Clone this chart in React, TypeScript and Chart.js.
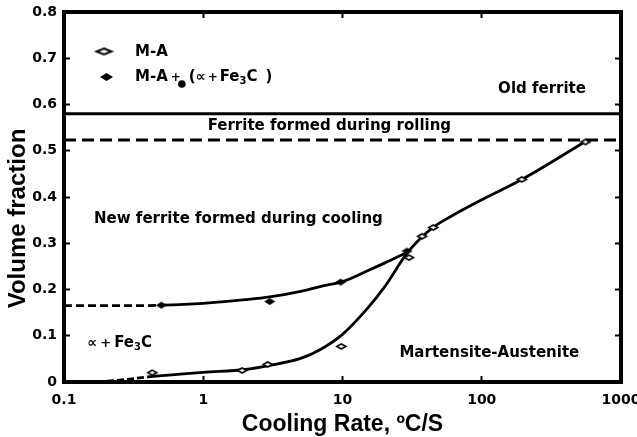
import React, { useEffect, useRef } from "react";
import { Chart, registerables } from "chart.js";

Chart.register(...registerables);

// ---------- data ----------
const xTickValues = [0.1, 1, 10, 100, 1000];
const xTopTickValues = [1, 10, 100];
const yTickValues = [0, 0.1, 0.2, 0.3, 0.4, 0.5, 0.6, 0.7, 0.8];
const yRightTickValues = [0.1, 0.2, 0.3, 0.4, 0.5, 0.6, 0.7];

const xTitle = "Cooling Rate, ºC/S";
const yTitle = "Volume fraction";

// phase boundaries (horizontal)
const boundaryX = [0.1, 1000];
const oldFerriteY = [0.58, 0.58];
const rollingFerriteY = [0.523, 0.523];

// M-A curve (lower)
const maCurveX = [0.173, 0.25, 0.4, 1, 2, 3, 5, 7, 10, 15, 20, 29, 37, 45, 60, 100, 200, 555];
const maCurveY = [0, 0.004, 0.011, 0.021, 0.027, 0.036, 0.051, 0.071, 0.103, 0.158, 0.205, 0.278, 0.313, 0.335, 0.358, 0.394, 0.44, 0.52];
const maDashedUntil = 0.4;

// M-A + (α + Fe3C) curve (upper)
const mixCurveX = [0.1, 0.2, 0.3, 0.5, 1, 2, 3, 5, 7, 10, 15, 20, 29];
const mixCurveY = [0.165, 0.165, 0.165, 0.166, 0.17, 0.178, 0.184, 0.196, 0.207, 0.217, 0.24, 0.257, 0.28];
const mixDashedUntil = 0.5;

// measured points
const maPointX = [0.43, 1.9, 2.9, 9.8, 30, 37.3, 44.8, 194, 555];
const maPointY = [0.02, 0.025, 0.038, 0.077, 0.269, 0.315, 0.334, 0.438, 0.519];
const mixPointX = [0.5, 3, 9.7, 29];
const mixPointY = [0.166, 0.174, 0.216, 0.283];

// text
const regionText = ["Old ferrite", "Ferrite formed during rolling", "New ferrite formed during cooling", "Martensite-Austenite"];
const legendText = ["M-A", "M-A"];

// ---------- layout (text placement, in data units) ----------
const regionAnchorX = [271, 8.05, 1.79, 113.4];
const regionAnchorY = [0.634, 0.5525, 0.3525, 0.0633];
const alphaLabelX = 0.147;
const alphaLabelY = 0.084;

const TXT = '"DejaVu Sans", sans-serif';
const TITLE_FONT = '"Liberation Sans", Arial, sans-serif';

function makeDiamond(w: number, h: number, fill: string, lw: number) {
  const c = document.createElement("canvas");
  const pad = Math.ceil(lw) + 1;
  c.width = w + pad * 2;
  c.height = h + pad * 2;
  const g = c.getContext("2d") as CanvasRenderingContext2D;
  g.beginPath();
  g.moveTo(pad + w / 2, pad);
  g.lineTo(pad + w, pad + h / 2);
  g.lineTo(pad + w / 2, pad + h);
  g.lineTo(pad, pad + h / 2);
  g.closePath();
  g.fillStyle = fill;
  g.fill();
  if (lw > 0) {
    g.lineWidth = lw;
    g.strokeStyle = "#000";
    g.stroke();
  }
  return c;
}

function zip(xs: number[], ys: number[]) {
  return xs.map((x, i) => ({ x, y: ys[i] }));
}

type Run = { t: string; size: number; gap?: number; dy?: number };
function drawRuns(ctx: CanvasRenderingContext2D, x: number, y: number, runs: Run[]) {
  let cx = x;
  ctx.textAlign = "left";
  ctx.textBaseline = "middle";
  for (const r of runs) {
    ctx.font = `bold ${r.size}px ${TXT}`;
    cx += r.gap || 0;
    ctx.fillText(r.t, cx, y + (r.dy || 0));
    cx += ctx.measureText(r.t).width;
  }
  return cx;
}

export default function App() {
  const ref = useRef<HTMLCanvasElement | null>(null);

  useEffect(() => {
    const canvas = ref.current;
    if (!canvas) return;

    const openDiamond = makeDiamond(9, 5, "#fff", 1.6);
    const filledDiamond = makeDiamond(11, 7, "#000", 0);
    const legendOpen = makeDiamond(15, 6, "#fff", 2);
    const legendFilled = makeDiamond(13, 8, "#000", 0);

    const grid = {
      display: true,
      drawOnChartArea: false,
      drawTicks: true,
      tickLength: -6,
      tickWidth: 2,
      tickColor: "#000",
      color: "#000",
    };
    const border = { display: true, width: 4, color: "#000" };
    const tickFont = { family: TXT, weight: "bold", size: 14 };

    const annot = {
      id: "annot",
      afterDraw(chart: any) {
        const { ctx, chartArea: a, scales } = chart;
        const xs = scales.x;
        const ys = scales.y;
        ctx.save();
        ctx.lineWidth = 4;
        ctx.strokeStyle = "#000";
        ctx.strokeRect(a.left, a.top, a.right - a.left, a.bottom - a.top);
        ctx.fillStyle = "#000";
        ctx.textBaseline = "middle";
        ctx.textAlign = "center";
        ctx.font = `bold 15px ${TXT}`;
        regionText.forEach((t, i) => {
          ctx.fillText(t, xs.getPixelForValue(regionAnchorX[i]), ys.getPixelForValue(regionAnchorY[i]));
        });
        // alpha + Fe3C label
        drawRuns(ctx, xs.getPixelForValue(alphaLabelX), ys.getPixelForValue(alphaLabelY), [
          { t: "∝", size: 14 },
          { t: "+", size: 13, gap: 3 },
          { t: "Fe", size: 15, gap: 3 },
          { t: "3", size: 10, dy: 4 },
          { t: "C", size: 15 },
        ]);
        // legend
        const lx = a.left;
        const ly = a.top;
        ctx.drawImage(legendOpen, lx + 40 - legendOpen.width / 2, ly + 39.5 - legendOpen.height / 2);
        ctx.drawImage(legendFilled, lx + 42.5 - legendFilled.width / 2, ly + 65 - legendFilled.height / 2);
        drawRuns(ctx, lx + 71, ly + 40.5, [{ t: legendText[0], size: 15 }]);
        const afterPlus = drawRuns(ctx, lx + 71, ly + 65.5, [
          { t: legendText[1], size: 15 },
          { t: "+", size: 12, gap: 3 },
        ]);
        ctx.beginPath();
        ctx.arc(afterPlus + 1, ly + 72, 3.8, 0, Math.PI * 2);
        ctx.fill();
        drawRuns(ctx, afterPlus + 8, ly + 65.5, [
          { t: "(", size: 15 },
          { t: "∝", size: 14 },
          { t: "+", size: 12, gap: 2 },
          { t: "Fe", size: 15, gap: 2 },
          { t: "3", size: 10, dy: 4 },
          { t: "C", size: 15 },
          { t: ")", size: 15, gap: 8 },
        ]);
        ctx.restore();
      },
    };

    const chart = new Chart(canvas, {
      type: "scatter",
      data: {
        datasets: [
          {
            label: "M-A points",
            data: zip(maPointX, maPointY),
            showLine: false,
            pointStyle: openDiamond as any,
            pointRadius: 4,
          },
          {
            label: "M-A + (α+Fe3C) points",
            data: zip(mixPointX, mixPointY),
            showLine: false,
            pointStyle: filledDiamond as any,
            pointRadius: 4,
          },
          {
            label: "M-A + (α+Fe3C)",
            data: zip(mixCurveX, mixCurveY),
            showLine: true,
            borderColor: "#000",
            borderWidth: 2.8,
            pointRadius: 0,
            cubicInterpolationMode: "monotone",
            segment: {
              borderDash: (c: any) => (c.p1.parsed.x <= mixDashedUntil ? [8, 4] : undefined),
            },
          },
          {
            label: "M-A",
            data: zip(maCurveX, maCurveY),
            showLine: true,
            borderColor: "#000",
            borderWidth: 2.8,
            pointRadius: 0,
            cubicInterpolationMode: "monotone",
            segment: {
              borderDash: (c: any) => (c.p1.parsed.x <= maDashedUntil ? [7, 3] : undefined),
            },
          },
          {
            label: "old ferrite boundary",
            data: zip(boundaryX, oldFerriteY),
            showLine: true,
            borderColor: "#000",
            borderWidth: 3,
            pointRadius: 0,
          },
          {
            label: "rolling ferrite boundary",
            data: zip(boundaryX, rollingFerriteY),
            showLine: true,
            borderColor: "#000",
            borderWidth: 3,
            borderDash: [12, 6],
            pointRadius: 0,
          },
        ],
      },
      options: {
        responsive: false,
        animation: false,
        devicePixelRatio: 1,
        layout: { padding: 0 },
        events: [],
        plugins: {
          legend: { display: false },
          tooltip: { enabled: false },
          title: {
            display: true,
            position: "left",
            text: yTitle,
            color: "#000",
            font: { family: TITLE_FONT, weight: "bold", size: 24, lineHeight: 1 },
            padding: { top: 6, bottom: 0 },
          },
        },
        scales: {
          x: {
            type: "logarithmic",
            position: "bottom",
            min: 0.1,
            max: 1000,
            afterBuildTicks: (s: any) => {
              s.ticks = xTickValues.map((v) => ({ value: v }));
            },
            ticks: {
              font: tickFont as any,
              color: "#000",
              padding: 15.5,
              maxRotation: 0,
              autoSkip: false,
              callback: (v: any) => String(v),
            },
            grid,
            border,
            title: {
              display: true,
              text: xTitle,
              color: "#000",
              font: { family: TITLE_FONT, weight: "bold", size: 23, lineHeight: 1 },
              padding: { top: 0, bottom: 1 },
            },
            afterFit: (s: any) => {
              s.height = 55;
              s.paddingLeft = 0;
              s.paddingRight = 0;
            },
          },
          x2: {
            type: "logarithmic",
            position: "top",
            min: 0.1,
            max: 1000,
            afterBuildTicks: (s: any) => {
              s.ticks = xTopTickValues.map((v) => ({ value: v }));
            },
            ticks: { display: false },
            grid,
            border,
            afterFit: (s: any) => {
              s.height = 12;
              s.paddingLeft = 0;
              s.paddingRight = 0;
            },
          },
          y: {
            type: "linear",
            position: "left",
            min: 0,
            max: 0.8,
            afterBuildTicks: (s: any) => {
              s.ticks = yTickValues.map((v) => ({ value: v }));
            },
            ticks: {
              font: tickFont as any,
              color: "#000",
              padding: 13,
              callback: (v: any) => (Number(v) === 0 ? "0" : Number(v).toFixed(1)),
            },
            grid,
            border,
            afterFit: (s: any) => {
              s.width = 34;
              s.paddingTop = 0;
              s.paddingBottom = 0;
            },
          },
          y2: {
            type: "linear",
            position: "right",
            min: 0,
            max: 0.8,
            afterBuildTicks: (s: any) => {
              s.ticks = yRightTickValues.map((v) => ({ value: v }));
            },
            ticks: { display: false },
            grid,
            border,
            afterFit: (s: any) => {
              s.width = 16;
              s.paddingTop = 0;
              s.paddingBottom = 0;
            },
          },
        },
      } as any,
      plugins: [annot],
    });

    return () => chart.destroy();
  }, []);

  return (
    <div style={{ position: "fixed", left: 0, top: 0, width: 637, height: 437, background: "#fff" }}>
      <canvas ref={ref} width={637} height={437} style={{ display: "block" }} />
    </div>
  );
}
